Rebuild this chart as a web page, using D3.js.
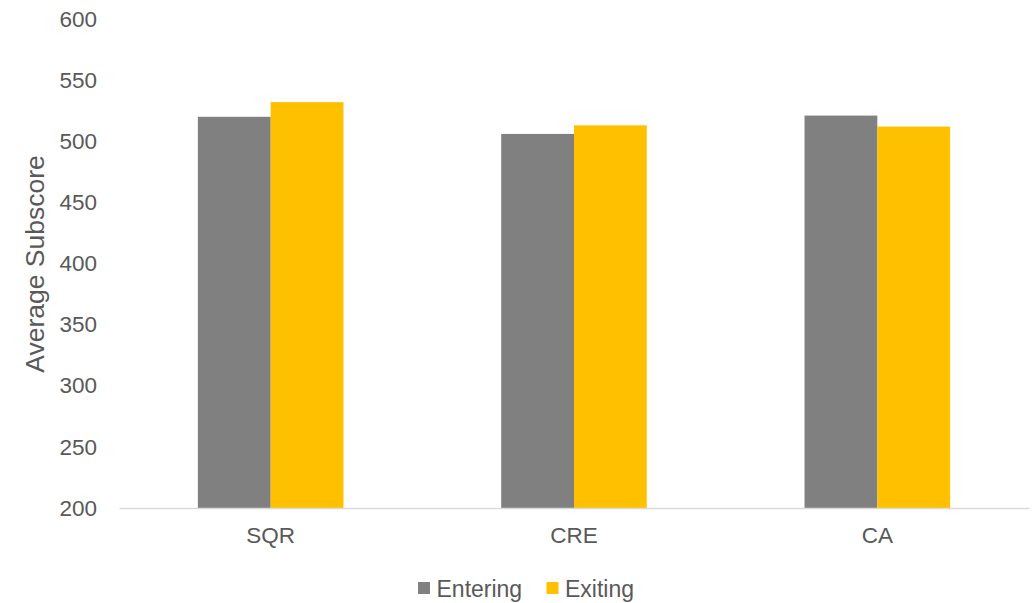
<!DOCTYPE html>
<html>
<head>
<meta charset="utf-8">
<script src="https://cdn.jsdelivr.net/npm/d3@7"></script>
<style>
  body { margin: 0; background: #fff; }
  svg { display: block; font-family: "Liberation Sans", Arial, sans-serif; }
</style>
</head>
<body>
<svg id="chart" width="1035" height="603"></svg>
<script>
const categories = ["SQR", "CRE", "CA"];
const seriesNames = ["Entering", "Exiting"];
const entering = [520, 506, 521];
const exiting = [532, 513, 512];
const yTicks = [200, 250, 300, 350, 400, 450, 500, 550, 600];
const colors = ["#808080", "#FFC000"];

(function () {
const svg = d3.select("#chart");
const mLeft = 119, mRight = 1029, mTop = 19, mBottom = 508;
const fs = 22.5;

const x0 = d3.scaleBand().domain(categories).range([mLeft, mRight]).paddingInner(0.52).paddingOuter(0.26);
const x1 = d3.scaleBand().domain(seriesNames).range([0, x0.bandwidth()]);
const y = d3.scaleLinear().domain([200, 600]).range([mBottom, mTop]);

const data = categories.map((c, i) => ({ cat: c, vals: [entering[i], exiting[i]] }));

const g = svg.append("g");
g.selectAll("g.cat").data(data).join("g")
  .attr("class", "cat")
  .attr("transform", d => `translate(${x0(d.cat)},0)`)
  .selectAll("rect").data(d => d.vals.map((v, j) => ({ s: seriesNames[j], v, j })))
  .join("rect")
  .attr("x", d => x1(d.s))
  .attr("width", x1.bandwidth())
  .attr("y", d => y(d.v))
  .attr("height", d => y(200) - y(d.v))
  .attr("fill", d => colors[d.j]);

// y axis labels
const yAxis = svg.append("g").attr("transform", `translate(${mLeft},0)`)
  .call(d3.axisLeft(y).tickValues(yTicks).tickSize(0).tickPadding(22));
yAxis.select(".domain").remove();
yAxis.selectAll("text").attr("font-size", fs).attr("fill", "#595959")
  .attr("font-family", "Liberation Sans, Arial, sans-serif");

// x axis
const xAxis = svg.append("g").attr("transform", `translate(0,${mBottom})`)
  .call(d3.axisBottom(x0).tickSize(0).tickPadding(19));
xAxis.select(".domain").attr("stroke", "#d9d9d9").attr("stroke-width", 1.3);
xAxis.selectAll("text").attr("font-size", fs).attr("fill", "#595959")
  .attr("font-family", "Liberation Sans, Arial, sans-serif");

// y axis title
svg.append("text")
  .attr("transform", `translate(44,264) rotate(-90)`)
  .attr("text-anchor", "middle")
  .attr("font-size", 26.5)
  .attr("fill", "#595959")
  .text("Average Subscore");

// legend
const legend = svg.append("g").attr("transform", "translate(418,582)");
const items = [{ name: "Entering", x: 0 }, { name: "Exiting", x: 128.5 }];
items.forEach((it, i) => {
  legend.append("rect").attr("x", it.x).attr("y", 0).attr("width", 12).attr("height", 12).attr("fill", colors[i]);
  legend.append("text").attr("x", it.x + 18.5).attr("y", 14.5).attr("font-size", fs + 0.5).attr("fill", "#595959").text(it.name);
});
})();
</script>
</body>
</html>
